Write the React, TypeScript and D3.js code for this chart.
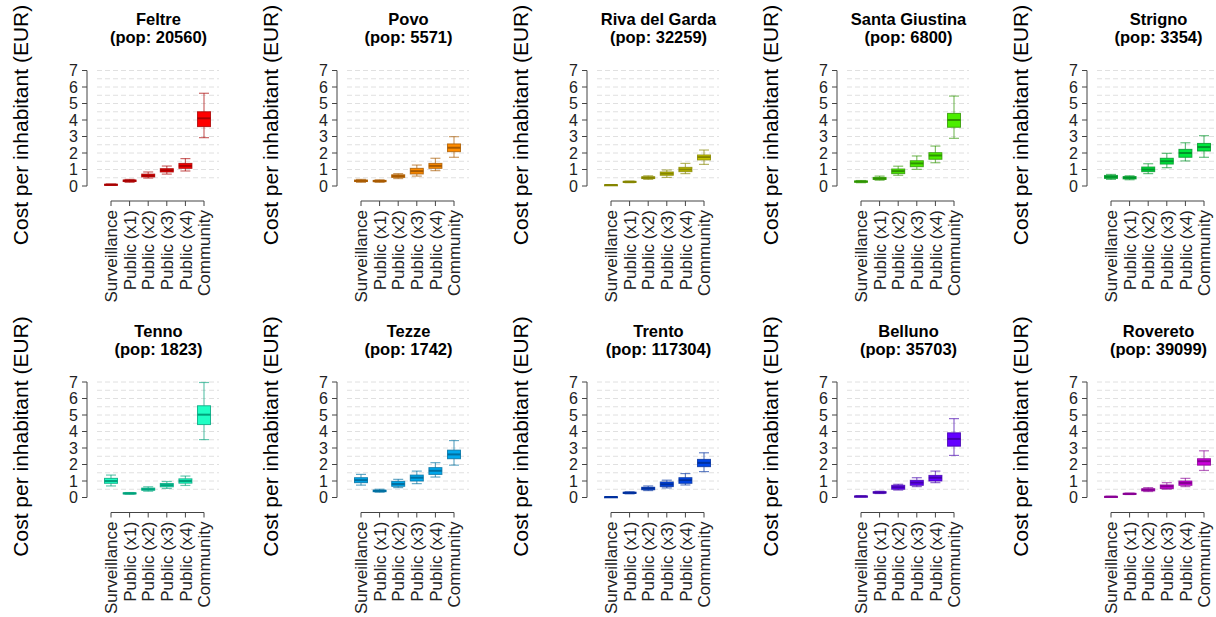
import React from 'react';
import * as d3 from 'd3';

const categories = ['Surveillance', 'Public (x1)', 'Public (x2)', 'Public (x3)', 'Public (x4)', 'Community'];
const towns = ['Feltre', 'Povo', 'Riva del Garda', 'Santa Giustina', 'Strigno', 'Tenno', 'Tezze', 'Trento', 'Belluno', 'Rovereto'];
const populations = [20560, 5571, 32259, 6800, 3354, 1823, 1742, 117304, 35703, 39099];
const yTicks = [0, 1, 2, 3, 4, 5, 6, 7];
const gridValues = [0.5, 1, 1.5, 2, 2.5, 3, 3.5, 4, 4.5, 5, 5.5, 6, 6.5, 7];

const fills = ['#ff0000', '#ff8c00', '#cccc00', '#4cee00', '#00e63c', '#1effc4', '#00a8ec', '#0046e8', '#6400ff', '#cc00dc'];
const strokes = ['#a80000', '#a85a00', '#858500', '#2e9400', '#00952a', '#00a37c', '#006fa0', '#00309e', '#4400ae', '#880094'];

// [low whisker, q1, median, q3, high whisker] per category
const feltre = [[0.05, 0.07, 0.08, 0.1, 0.12], [0.22, 0.27, 0.32, 0.36, 0.4], [0.48, 0.55, 0.63, 0.72, 0.85], [0.72, 0.85, 0.95, 1.05, 1.21], [0.91, 1.07, 1.22, 1.37, 1.66], [2.93, 3.6, 4.1, 4.5, 5.62]];
const povo = [[0.22, 0.27, 0.31, 0.36, 0.4], [0.22, 0.26, 0.3, 0.34, 0.38], [0.45, 0.52, 0.6, 0.68, 0.75], [0.6, 0.73, 0.9, 1.07, 1.27], [0.93, 1.07, 1.22, 1.37, 1.68], [1.74, 2.08, 2.32, 2.55, 2.99]];
const riva = [[0.04, 0.05, 0.06, 0.07, 0.08], [0.2, 0.23, 0.25, 0.28, 0.3], [0.4, 0.45, 0.5, 0.56, 0.62], [0.52, 0.65, 0.75, 0.85, 0.97], [0.75, 0.87, 1.0, 1.13, 1.37], [1.31, 1.58, 1.75, 1.88, 2.18]];
const santaGiustina = [[0.2, 0.23, 0.27, 0.3, 0.33], [0.35, 0.4, 0.45, 0.52, 0.6], [0.65, 0.75, 0.9, 1.03, 1.2], [1.01, 1.17, 1.37, 1.53, 1.82], [1.41, 1.62, 1.85, 2.02, 2.42], [2.89, 3.56, 4.0, 4.4, 5.45]];
const strigno = [[0.4, 0.46, 0.55, 0.64, 0.7], [0.38, 0.43, 0.5, 0.57, 0.62], [0.75, 0.87, 1.0, 1.15, 1.35], [1.11, 1.33, 1.5, 1.68, 1.98], [1.52, 1.74, 2.0, 2.22, 2.62], [1.74, 2.12, 2.36, 2.58, 3.05]];
const tenno = [[0.7, 0.86, 1.0, 1.16, 1.36], [0.2, 0.22, 0.25, 0.28, 0.3], [0.38, 0.44, 0.5, 0.57, 0.65], [0.55, 0.65, 0.75, 0.85, 0.97], [0.73, 0.87, 1.0, 1.13, 1.3], [3.51, 4.42, 5.02, 5.56, 6.97]];
const tezze = [[0.75, 0.9, 1.05, 1.2, 1.4], [0.32, 0.35, 0.4, 0.45, 0.5], [0.6, 0.68, 0.82, 0.98, 1.1], [0.84, 1.0, 1.2, 1.36, 1.6], [1.24, 1.4, 1.62, 1.81, 2.11], [1.96, 2.35, 2.61, 2.87, 3.45]];
const trento = [[0.01, 0.02, 0.03, 0.04, 0.05], [0.22, 0.25, 0.28, 0.32, 0.35], [0.42, 0.47, 0.55, 0.62, 0.7], [0.58, 0.66, 0.8, 0.94, 1.05], [0.76, 0.86, 1.05, 1.2, 1.45], [1.57, 1.87, 2.1, 2.31, 2.71]];
const belluno = [[0.04, 0.05, 0.07, 0.08, 0.1], [0.24, 0.27, 0.3, 0.35, 0.38], [0.45, 0.5, 0.62, 0.74, 0.8], [0.66, 0.74, 0.9, 1.04, 1.2], [0.9, 1.0, 1.2, 1.34, 1.6], [2.55, 3.11, 3.55, 3.92, 4.78]];
const rovereto = [[0.03, 0.04, 0.05, 0.06, 0.07], [0.18, 0.2, 0.22, 0.25, 0.27], [0.36, 0.4, 0.47, 0.53, 0.6], [0.5, 0.54, 0.68, 0.76, 0.9], [0.66, 0.74, 0.88, 1.0, 1.16], [1.64, 1.96, 2.2, 2.35, 2.83]];

const townStats = [feltre, povo, riva, santaGiustina, strigno, tenno, tezze, trento, belluno, rovereto];

const font = '"Liberation Sans", Arial, Helvetica, sans-serif';

const y = d3.scaleLinear().domain([0, 7]).range([186, 70.5]);
const x = d3.scalePoint<string>().domain(categories).range([111, 204]);

function Panel({ index }: { index: number }) {
  const col = index % 5;
  const row = Math.floor(index / 5);
  const stats = townStats[index];
  const fill = fills[index];
  const stroke = strokes[index];
  const half = 6.5;
  const cap = 5;

  return (
    <g transform={`translate(${col * 250},${row * 311.5})`} fontFamily={font}>
      <text x={158.5} y={25} textAnchor="middle" fontWeight="bold" fontSize={16.5} fill="#000">{towns[index]}</text>
      <text x={158.5} y={43} textAnchor="middle" fontWeight="bold" fontSize={16.5} fill="#000">{`(pop: ${populations[index]})`}</text>
      <text transform="translate(28,125) rotate(-90)" textAnchor="middle" fontSize={21} fill="#000">Cost per inhabitant (EUR)</text>

      {gridValues.map(v => (
        <line key={v} x1={97} x2={219} y1={y(v)} y2={y(v)} stroke="#e0e0e0" strokeDasharray="5,3" strokeWidth={1} />
      ))}

      <line x1={87} x2={87} y1={y(0)} y2={y(7)} stroke="#444" />
      {yTicks.map(t => (
        <g key={t}>
          <line x1={82} x2={87} y1={y(t)} y2={y(t)} stroke="#444" />
          <text x={78} y={y(t)} dy="0.36em" textAnchor="end" fontSize={16} fill="#222">{t}</text>
        </g>
      ))}

      <line x1={x(categories[0])} x2={x(categories[categories.length - 1])} y1={201} y2={201} stroke="#444" />
      {categories.map(c => (
        <g key={c}>
          <line x1={x(c)} x2={x(c)} y1={201} y2={206} stroke="#444" />
          <text transform={`translate(${x(c)},210) rotate(-90)`} dy="0.36em" textAnchor="end" fontSize={17} fill="#222">{c}</text>
        </g>
      ))}

      {stats.map((s, i) => {
        const cx = x(categories[i]) as number;
        const [lo, q1, med, q3, hi] = s;
        return (
          <g key={i}>
            <g stroke={stroke} strokeOpacity={0.6} strokeWidth={1.2}>
              <line x1={cx} x2={cx} y1={y(q3)} y2={y(hi)} />
              <line x1={cx} x2={cx} y1={y(q1)} y2={y(lo)} />
              <line x1={cx - cap} x2={cx + cap} y1={y(hi)} y2={y(hi)} />
              <line x1={cx - cap} x2={cx + cap} y1={y(lo)} y2={y(lo)} />
            </g>
            <rect x={cx - half} width={half * 2} y={y(q3)} height={Math.max(y(q1) - y(q3), 1)} fill={fill} stroke={stroke} strokeOpacity={0.8} strokeWidth={1} />
            <line x1={cx - half} x2={cx + half} y1={y(med)} y2={y(med)} stroke={stroke} strokeWidth={2} />
          </g>
        );
      })}
    </g>
  );
}

export default function App() {
  return (
    <svg width={1216} height={617} style={{ position: 'absolute', left: 0, top: 0, background: '#fff' }}>
      <rect width={1216} height={617} fill="#fff" />
      {towns.map((t, i) => <Panel key={t} index={i} />)}
    </svg>
  );
}
